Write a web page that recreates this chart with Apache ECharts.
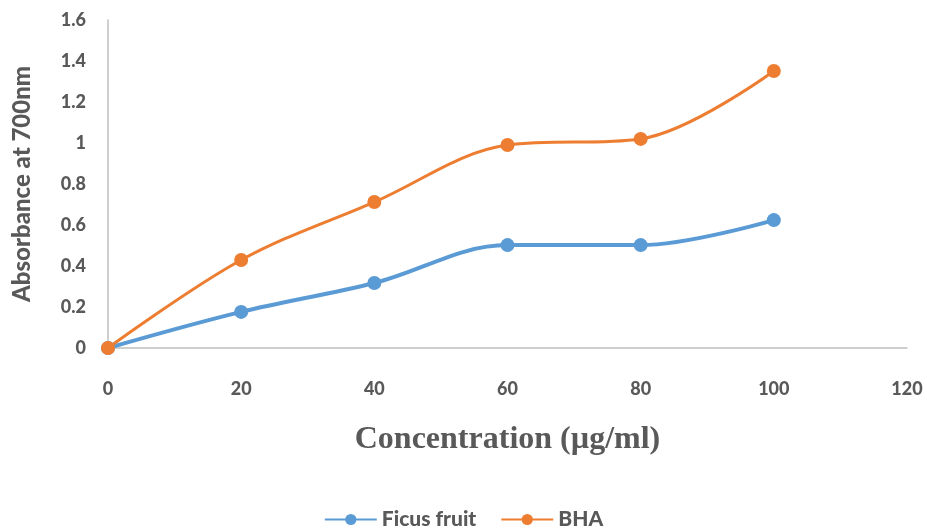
<!DOCTYPE html>
<html><head><meta charset="utf-8">
<script src="https://cdn.jsdelivr.net/npm/echarts@6/dist/echarts.min.js"></script>
<style>html,body{margin:0;padding:0;background:#fff}#c{width:927px;height:528px}</style>
</head><body><div id="c"></div>
<script>
const concentrations = [0, 20, 40, 60, 80, 100];
const ficusFruit = [0, 0.176, 0.317, 0.502, 0.502, 0.624];
const bha = [0, 0.429, 0.712, 0.99, 1.02, 1.351];
const seriesNames = ['Ficus fruit', 'BHA'];

const chart = echarts.init(document.getElementById('c'));
const lab = {color:'#595959', fontFamily:'Lato', fontWeight:900, fontSize:18};
chart.setOption({
  animation:false,
  grid:{left:108, right:20, top:20, bottom:180},
  legend:{
    data:seriesNames, top:504, left:'center', itemWidth:52, itemHeight:14, itemGap:24,
    textStyle:{color:'#595959', fontFamily:'Lato', fontWeight:900, fontSize:21}
  },
  xAxis:{
    type:'value', min:0, max:120, interval:20,
    name:'Concentration (µg/ml)', nameLocation:'middle', nameGap:76,
    nameTextStyle:{color:'#595959', fontFamily:'Liberation Serif', fontWeight:'bold', fontSize:32},
    axisLine:{show:true, lineStyle:{color:'#bfbfbf', width:1.5}},
    axisTick:{show:false}, splitLine:{show:false},
    axisLabel:Object.assign({margin:32}, lab)
  },
  yAxis:{
    type:'value', min:0, max:1.6, interval:0.2,
    name:'Absorbance at 700nm', nameLocation:'middle', nameGap:74, nameRotate:90,
    nameTextStyle:{color:'#595959', fontFamily:'Lato', fontWeight:900, fontSize:24},
    axisLine:{show:true, lineStyle:{color:'#bfbfbf', width:1.5}},
    axisTick:{show:false}, splitLine:{show:false},
    axisLabel:Object.assign({margin:22, formatter:v=>String(+v.toFixed(1))}, lab)
  },
  series:[
    {name:seriesNames[0], type:'line', smooth:0.35, data:concentrations.map((x,i)=>[x,ficusFruit[i]]),
     symbol:'circle', symbolSize:14, itemStyle:{color:'#5B9BD5'}, lineStyle:{color:'#5B9BD5', width:4}},
    {name:seriesNames[1], type:'line', smooth:0.35, data:concentrations.map((x,i)=>[x,bha[i]]),
     symbol:'circle', symbolSize:14, itemStyle:{color:'#ED7D31'}, lineStyle:{color:'#ED7D31', width:3}}
  ]
});
</script></body></html>
